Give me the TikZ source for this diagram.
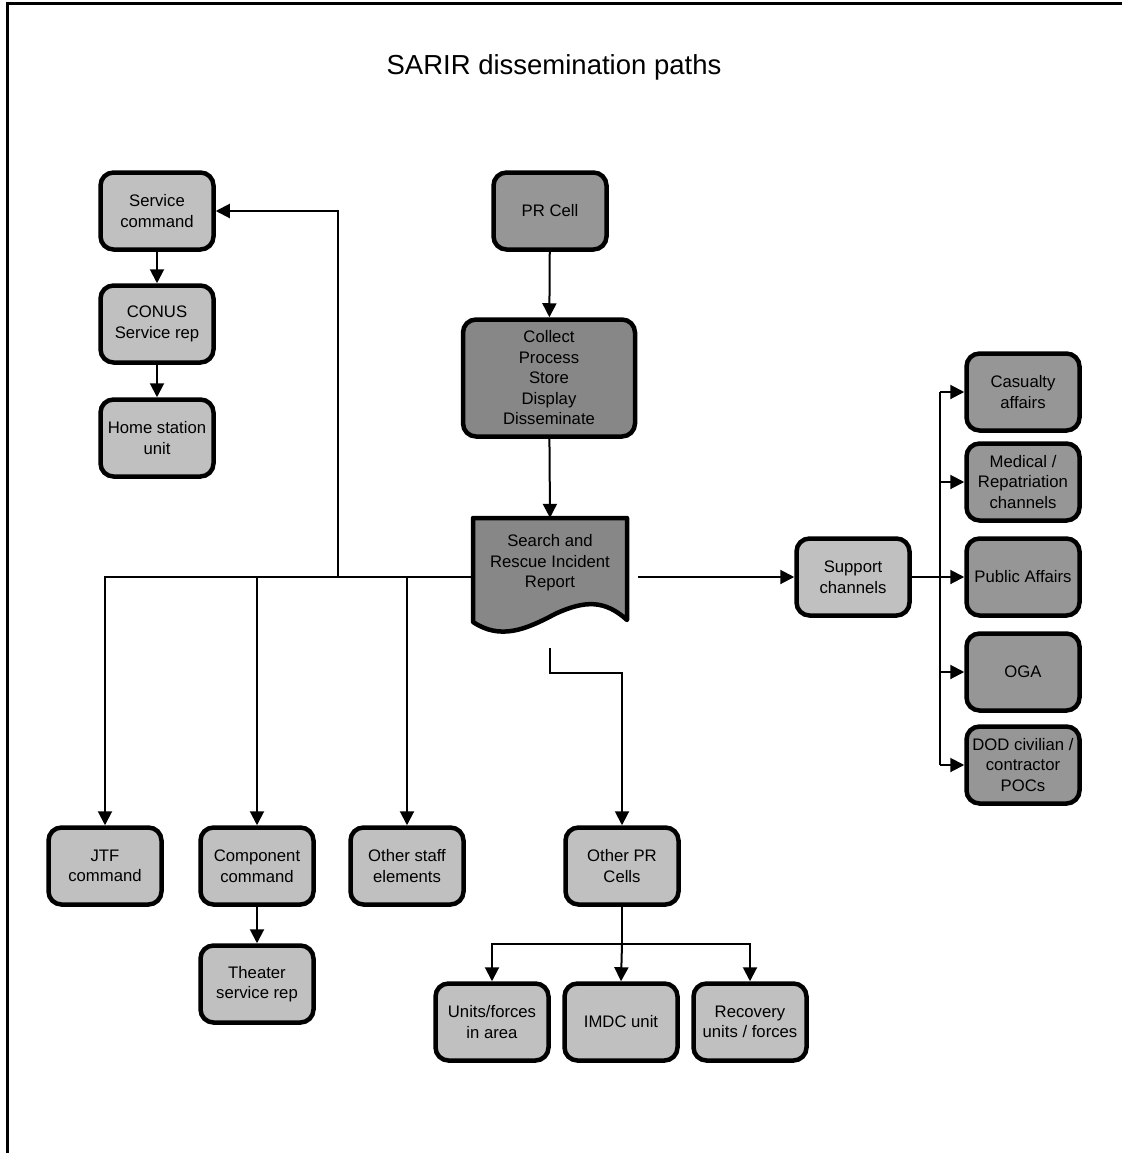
\documentclass[tikz,border=0pt]{standalone}
\usepackage{fontspec}
\setmainfont{Liberation Sans}
\usetikzlibrary{arrows.meta}
\definecolor{lightbox}{RGB}{192,192,192}
\definecolor{darkbox}{RGB}{150,150,150}
\definecolor{darkerbox}{RGB}{135,135,135}
\tikzset{
  box/.style={draw=black, line width=4.5pt, rounded corners=13pt, fill=lightbox,
    minimum width=113pt, minimum height=77pt, inner sep=2pt, align=center,
    font=\fontsize{16.7}{20.5}\selectfont},
  dbox/.style={box, fill=darkbox},
  conn/.style={line width=2pt},
  arr/.style={conn, -{Triangle[length=14pt,width=14pt]}},
}
\begin{document}
\begin{tikzpicture}[x=1pt,y=-1pt]
\useasboundingbox (0,0) rectangle (1122,1153);
% frame (cropped)
\draw[line width=3pt] (1122,4) -- (7,4) -- (7,1153);
% title
\node[font=\fontsize{27.5}{32}\selectfont] (title) at (554,67) {SARIR dissemination paths};

% left column
\node[box] (svc) at (157,211) {Service\\command};
\node[box] (conus) at (157,324) {CONUS\\Service rep};
\node[box] (home) at (157,438) {Home station\\unit};

% centre
\node[dbox] (pr) at (550,211) {PR Cell};
\node[box, fill=darkerbox, minimum width=172pt, minimum height=117pt] (col) at (549,378)
  {Collect\\Process\\Store\\Display\\Disseminate};
\node[minimum width=154pt, minimum height=118pt, inner sep=0pt] (doc) at (550,577) {};
\draw[line width=4.5pt, fill=darkerbox, line join=round]
  (473,518) -- (627,518) -- (627,620)
  .. controls (605,600) and (585,600) .. (555,614)
  .. controls (525,630) and (500,640) .. (473,622) -- cycle;
\node[align=center, font=\fontsize{16.7}{20.5}\selectfont] (doclabel) at (550,563)
  {Search and\\Rescue Incident\\Report};

% right side
\node[box] (sup) at (853,577) {Support\\channels};
\node[dbox] (cas) at (1023,392) {Casualty\\affairs};
\node[dbox] (med) at (1023,482) {Medical /\\Repatriation\\channels};
\node[dbox] (pub) at (1023,577) {Public Affairs};
\node[dbox] (oga) at (1023,672) {OGA};
\node[dbox] (dod) at (1023,765) {DOD civilian /\\contractor\\POCs};

% bottom row
\node[box] (jtf) at (105,866) {JTF\\command};
\node[box] (comp) at (257,866) {Component\\command};
\node[box] (thr) at (257,984) {Theater\\service rep};
\node[box] (oth) at (407,866) {Other staff\\elements};
\node[box] (oprc) at (622,866) {Other PR\\Cells};
\node[box] (units) at (492,1022) {Units/forces\\in area};
\node[box] (imdc) at (621,1022) {IMDC unit};
\node[box] (rec) at (750,1022) {Recovery\\units / forces};

% connectors
\draw[arr] (svc) -- (conus);
\draw[arr] (conus) -- (home);
\draw[arr] (pr) -- (col);
\draw[arr] (col) -- (doc.north);

\coordinate (jn) at (338,577);
\draw[arr] (doc.west) -| (jtf.north);
\draw[arr] (comp.north |- doc.west) -- (comp.north);
\draw[arr] (oth.north |- doc.west) -- (oth.north);
\draw[arr] (jn) |- (svc.east);
\draw[arr] (comp) -- (thr);

\draw[arr] ([xshift=11pt]doc.east) -- (sup.west);
\coordinate (rb) at (940,577);
\draw[conn] (sup.east) -- (rb);
\draw[conn] (rb |- cas.west) -- (rb |- dod.west);
\draw[arr] (rb |- cas.west) -- (cas.west);
\draw[arr] (rb |- med.west) -- (med.west);
\draw[arr] (rb |- pub.west) -- (pub.west);
\draw[arr] (rb |- oga.west) -- (oga.west);
\draw[arr] (rb |- dod.west) -- (dod.west);

\draw[arr] ([yshift=-12pt]doc.south) -- ++(0,25) -| (oprc.north);
\draw[conn] (oprc.south) -- ++(0,37) coordinate (ob);
\draw[arr] (ob) -| (units.north);
\draw[arr] (ob) -| (rec.north);
\draw[arr] (ob) -- (imdc.north);
\end{tikzpicture}
\end{document}
